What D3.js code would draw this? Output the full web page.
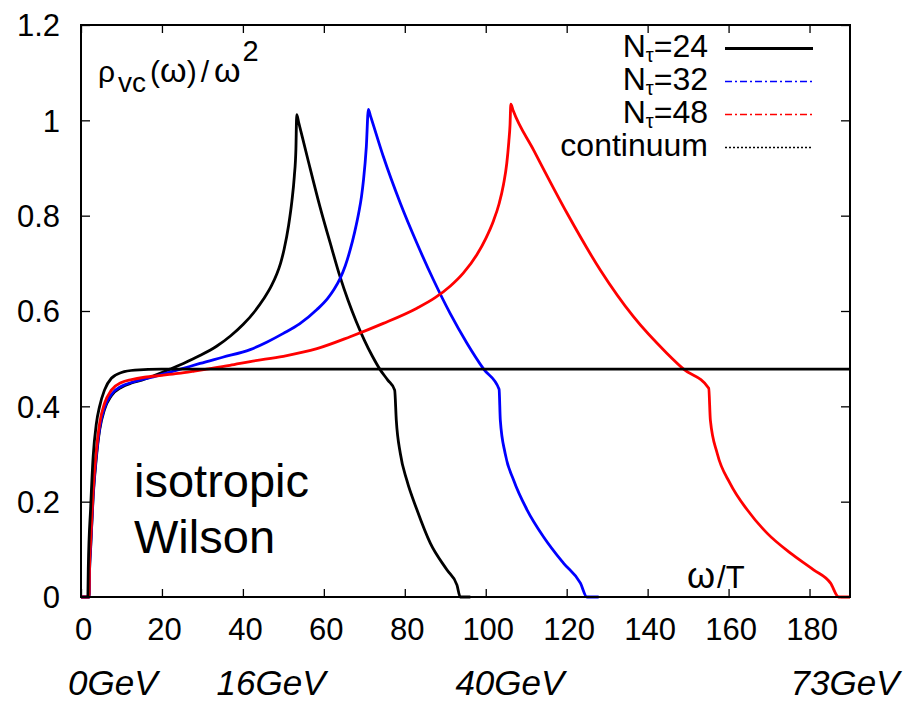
<!DOCTYPE html>
<html>
<head>
<meta charset="utf-8">
<script src="https://cdn.jsdelivr.net/npm/d3@7"></script>
<style>
  html, body { margin: 0; padding: 0; background: #fff; }
  svg { display: block; }
  text { font-family: "Liberation Sans", Arial, Helvetica, sans-serif; fill: #000; }
</style>
</head>
<body>
<svg id="chart" width="908" height="701"></svg>
<script>
// ---- data: vector-channel spectral function rho_vc(omega)/omega^2 vs omega/T ----
const omegaTicks = [0, 20, 40, 60, 80, 100, 120, 140, 160, 180];
const rhoTicks = [0, 0.2, 0.4, 0.6, 0.8, 1.0, 1.2];
const rhoTickLabels = ["0", "0.2", "0.4", "0.6", "0.8", "1", "1.2"];

// N_tau = 24 lattice
const nt24 = [
  [0, 0], [2.0, 0], [2.1, 0.05], [2.4, 0.105], [3.0, 0.21], [3.8, 0.293], [4.6, 0.35],
  [5.8, 0.393], [7.5, 0.422], [10, 0.44], [12.5, 0.449], [15, 0.455], [17, 0.461],
  [20, 0.471], [22, 0.478], [25.3, 0.49], [29.5, 0.507], [33.5, 0.526], [37, 0.548],
  [40.1, 0.572], [43, 0.6], [45.1, 0.625], [47, 0.652], [48.4, 0.678], [49.3, 0.7],
  [50.2, 0.73], [51.3, 0.78], [52.1, 0.83], [52.7, 0.882], [53.1, 0.94], [53.3, 1.012],
  [53.8, 0.995], [56, 0.92], [59, 0.82], [62, 0.73], [64, 0.672], [66, 0.622],
  [68, 0.578], [70, 0.539], [72, 0.505], [73.9, 0.477], [75.8, 0.455], [77.5, 0.434],
  [77.9, 0.371], [78.9, 0.301], [80.5, 0.245], [83.0, 0.183], [86.3, 0.113],
  [90.4, 0.057], [92.9, 0.025], [93.7, 0], [96.2, 0]
];

// N_tau = 32 lattice
const nt32 = [
  [0, 0], [2.0, 0], [2.1, 0.05], [2.4, 0.11], [3.0, 0.215], [3.8, 0.298], [4.6, 0.354],
  [5.8, 0.397], [7.5, 0.425], [10, 0.442], [12.5, 0.45], [15, 0.456], [17, 0.46],
  [20, 0.467], [24.6, 0.478], [29.4, 0.49], [35, 0.503], [41.8, 0.519], [46, 0.535],
  [50, 0.553], [54, 0.573], [58.3, 0.603], [61, 0.627], [62.5, 0.645], [64, 0.668],
  [65.3, 0.695], [66.5, 0.728], [67.6, 0.765], [68.6, 0.805], [69.3, 0.84],
  [69.8, 0.875], [70.5, 0.945], [71.0, 1.023], [71.5, 1.01], [74.7, 0.924],
  [78.9, 0.826], [83.0, 0.742], [87.1, 0.665], [91.2, 0.595], [95.4, 0.532],
  [99.5, 0.478], [103.3, 0.436], [103.6, 0.371], [104.8, 0.301], [106.9, 0.245],
  [110.2, 0.183], [114.3, 0.126], [119.2, 0.071], [123.4, 0.029], [125.0, 0], [127.9, 0]
];

// N_tau = 48 lattice
const nt48 = [
  [0, 0], [2.0, 0], [2.1, 0.06], [2.4, 0.12], [3.0, 0.224], [3.8, 0.308], [4.6, 0.364],
  [5.8, 0.406], [7.5, 0.434], [10, 0.45], [12.5, 0.456], [15.7, 0.461], [20, 0.465],
  [24, 0.469], [28, 0.474], [31, 0.478], [36.8, 0.486], [41.8, 0.494], [50, 0.505],
  [58.3, 0.521], [66.5, 0.546], [74.7, 0.574], [83.0, 0.606], [87.5, 0.628],
  [91.2, 0.652], [94.5, 0.68], [97.8, 0.718], [100, 0.752], [101.9, 0.789],
  [103.3, 0.825], [104.4, 0.866], [105.2, 0.91], [105.7, 0.955], [106.0, 0.99],
  [106.2, 1.034], [106.8, 1.02], [111.8, 0.938], [120.1, 0.805], [128.3, 0.686],
  [136.5, 0.588], [144.8, 0.511], [148.9, 0.478], [155.1, 0.438], [155.5, 0.371],
  [157.2, 0.301], [160.4, 0.238], [164.6, 0.183], [169.5, 0.134], [175.3, 0.092],
  [181.0, 0.057], [185.2, 0.029], [187.2, 0], [190, 0]
];

// free continuum
const continuum = [
  [1.7, 0], [1.8, 0.06], [2.4, 0.19], [3.0, 0.294], [3.8, 0.364], [4.6, 0.40],
  [5.8, 0.434], [7.5, 0.459], [10, 0.471], [13.3, 0.476], [19.9, 0.478], [190, 0.478]
];

const seriesLabels = ["24", "32", "48", "continuum"];
const gevLabels = ["0GeV", "16GeV", "40GeV", "73GeV"];
const gevAnchors = [-3.2, 33.5, 92.5, 175.3];   // omega/T where each label starts

// ---- layout ----
const svg = d3.select("#chart");
const plot = { left: 81, right: 850, top: 25, bottom: 597 };

const x = d3.scaleLinear().domain([0, 190]).range([plot.left, plot.right]);
const y = d3.scaleLinear().domain([0, 1.2]).range([plot.bottom, plot.top]);

// axes with inward ticks, mirrored on top/right
const gx = svg.append("g").attr("transform", `translate(0,${plot.bottom})`)
  .call(d3.axisBottom(x).tickValues(omegaTicks).tickSizeInner(-8).tickSizeOuter(0)
        .tickPadding(21).tickFormat(d3.format("d")));
gx.selectAll("text").attr("font-size", 31).attr("dx", 2);

const gy = svg.append("g").attr("transform", `translate(${plot.left},0)`)
  .call(d3.axisLeft(y).tickValues(rhoTicks).tickSizeInner(-9).tickSizeOuter(0)
        .tickPadding(21).tickFormat((d, i) => rhoTickLabels[i]));
gy.selectAll("text").attr("font-size", 31).attr("dy", "0.35em");

svg.append("g").attr("transform", `translate(0,${plot.top})`)
  .call(d3.axisTop(x).tickValues(omegaTicks).tickSizeInner(-8).tickSizeOuter(0).tickFormat(""));
svg.append("g").attr("transform", `translate(${plot.right},0)`)
  .call(d3.axisRight(y).tickValues(rhoTicks).tickSizeInner(-9).tickSizeOuter(0).tickFormat(""));

svg.selectAll(".domain").remove();
svg.selectAll(".tick line").attr("stroke", "#000").attr("stroke-width", 1.3);
svg.selectAll(".tick text").attr("font-family", "Liberation Sans, Arial, sans-serif").attr("fill", "#000");

// ---- curves ----
const line = d3.line().x(d => x(d[0])).y(d => y(d[1])).curve(d3.curveMonotoneX);
const curves = svg.append("g");
const drawSeries = (data, color) => curves.append("path")
  .datum(data).attr("d", line).attr("fill", "none")
  .attr("stroke", color).attr("stroke-width", 2.8)
  .attr("stroke-linejoin", "round").attr("stroke-linecap", "butt");

drawSeries(nt24, "#000000");
drawSeries(nt32, "#0000ff");
drawSeries(nt48, "#ff0000");
drawSeries(continuum, "#000000");

// frame
svg.append("rect")
  .attr("x", plot.left).attr("y", plot.top)
  .attr("width", plot.right - plot.left).attr("height", plot.bottom - plot.top)
  .attr("fill", "none").attr("stroke", "#000").attr("stroke-width", 2);

// ---- legend ----
const legendStyles = [
  { color: "#000000", width: 3, dash: null },
  { color: "#0000ff", width: 1.6, dash: "7,3,2,3" },
  { color: "#ff0000", width: 1.6, dash: "7,3,2,3" },
  { color: "#000000", width: 1.6, dash: "2,2" }
];
const legend = svg.append("g");
seriesLabels.forEach((lab, i) => {
  const base = 57 + 33 * i;
  const t = legend.append("text").attr("x", 708).attr("y", base)
    .attr("text-anchor", "end").attr("font-size", 32);
  if (lab === "continuum") {
    t.text(lab);
  } else {
    t.append("tspan").text("N");
    t.append("tspan").attr("font-size", 20).attr("dy", 5).text("τ");
    t.append("tspan").attr("dy", -5).text("=" + lab);
  }
  const st = legendStyles[i];
  legend.append("line")
    .attr("x1", 725).attr("x2", 813).attr("y1", base - 8.5).attr("y2", base - 8.5)
    .attr("stroke", st.color).attr("stroke-width", st.width)
    .attr("stroke-dasharray", st.dash);
});

// ---- axis titles and annotations ----
const ylab = svg.append("text").attr("x", 98).attr("y", 82).attr("font-size", 30);
ylab.append("tspan").text("ρ");
ylab.append("tspan").attr("font-size", 28).attr("dx", 3).attr("dy", 10).text("vc");
ylab.append("tspan").attr("dx", 4).attr("dy", -10).text("(");
ylab.append("tspan").attr("font-size", 34).text("ω");
ylab.append("tspan").text(")");
ylab.append("tspan").attr("dx", 4).text("/");
ylab.append("tspan").attr("font-size", 34).attr("dx", 5).text("ω");
ylab.append("tspan").attr("font-size", 29).attr("dx", 2).attr("dy", -21).text("2");

const xlab = svg.append("text").attr("x", 687).attr("y", 588).attr("font-size", 31);
xlab.append("tspan").attr("font-size", 36).text("ω");
xlab.append("tspan").attr("dx", 2).text("/T");

svg.append("text").attr("x", 134).attr("y", 497).attr("font-size", 47).text("isotropic");
svg.append("text").attr("x", 134).attr("y", 553).attr("font-size", 47).text("Wilson");

svg.append("g").selectAll("text").data(gevLabels).join("text")
  .attr("x", (d, i) => x(gevAnchors[i]))
  .attr("y", 695)
  .attr("font-size", 35)
  .attr("font-style", "italic")
  .text(d => d);
</script>
</body>
</html>
